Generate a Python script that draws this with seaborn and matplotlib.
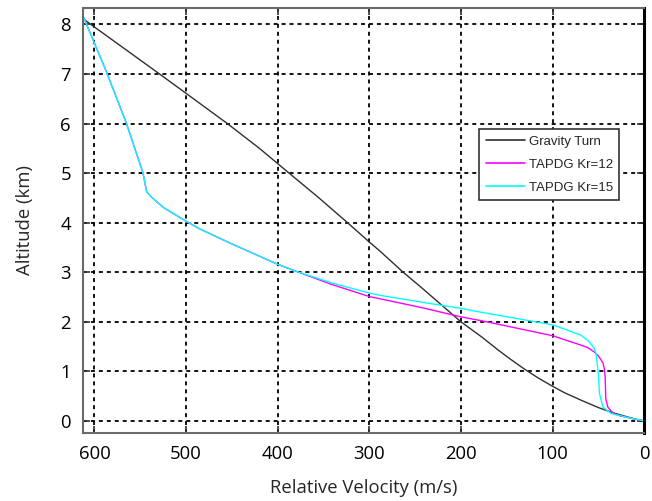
import matplotlib
matplotlib.use("Agg")
import matplotlib.pyplot as plt
import seaborn as sns
import pandas as pd

# Gravity Turn
gt_v = [612.7, 604, 529, 506, 455, 420, 387.6, 355, 323.8, 300, 287.4, 263, 243.7, 200, 177, 160, 147, 131, 115, 100, 87, 69, 50, 33, 18, 8, 0]
gt_h = [8.12, 8.0, 7.0, 6.69, 6.0, 5.5, 5.0, 4.5, 4.0, 3.61, 3.41, 3.0, 2.70, 2.0, 1.69, 1.44, 1.26, 1.05, 0.86, 0.70, 0.57, 0.42, 0.27, 0.16, 0.08, 0.03, 0.0]

# TAPDG Kr=12
k12_v = [612.7, 592, 586, 565, 547, 543, 538, 525, 500, 484.6, 451, 400, 378.5, 342, 300, 243.7, 200, 177, 100, 69, 61.6, 54.3, 50, 47, 45, 43.5, 42.6, 42.2, 41.9, 39.7, 34.2, 26, 17.8, 8, 0]
k12_h = [8.18, 7.27, 7.0, 6.0, 5.0, 4.62, 4.52, 4.31, 4.03, 3.87, 3.58, 3.16, 3.01, 2.76, 2.51, 2.29, 2.10, 2.02, 1.72, 1.53, 1.48, 1.39, 1.31, 1.23, 1.17, 1.05, 0.89, 0.65, 0.45, 0.28, 0.16, 0.10, 0.07, 0.03, 0.0]

# TAPDG Kr=15
k15_v = [612.7, 592, 586, 565, 547, 543, 538, 525, 500, 484.6, 451, 400, 378.5, 342, 300, 287, 243.7, 200, 177, 100, 83.4, 69, 60, 55, 52.5, 50.6, 49.5, 48.8, 45, 36, 18, 8, 0]
k15_h = [8.18, 7.27, 7.0, 6.0, 5.0, 4.62, 4.52, 4.31, 4.03, 3.87, 3.58, 3.16, 3.01, 2.79, 2.58, 2.53, 2.40, 2.27, 2.19, 1.94, 1.83, 1.73, 1.60, 1.48, 1.36, 1.05, 0.80, 0.55, 0.28, 0.15, 0.07, 0.03, 0.0]

series_names = ["Gravity Turn", "TAPDG Kr=12", "TAPDG Kr=15"]
colors = ["#303030", "#ff00ff", "#00ffff"]

x_ticks = [600, 500, 400, 300, 200, 100, 0]
y_ticks = [0, 1, 2, 3, 4, 5, 6, 7, 8]

sns.set_style("white")
plt.rcParams["font.family"] = ["Open Sans", "DejaVu Sans"]

fig = plt.figure(figsize=(6.52, 5.01), dpi=100)
ax = fig.add_axes([0.127, 0.136, 0.861, 0.849])

frames = []
for name, v, h in zip(series_names, [gt_v, k12_v, k15_v], [gt_h, k12_h, k15_h]):
    frames.append(pd.DataFrame({"v": v, "h": h, "series": name}))
df = pd.concat(frames, ignore_index=True)

for name, c in zip(series_names, colors):
    sub = df[df["series"] == name]
    sns.lineplot(data=sub, x="v", y="h", sort=False, estimator=None, ax=ax,
                 color=c, linewidth=1.0, label=name)

ax.set_xlim(612.7, 0)
ax.set_ylim(-0.24, 8.34)
ax.set_xticks(x_ticks)
ax.set_yticks(y_ticks)
ax.set_xticklabels([str(t) for t in x_ticks])
ax.set_yticklabels([str(t) for t in y_ticks])

ax.grid(True, color="black", linestyle=(0, (2.2, 2.2)), linewidth=1.3)
ax.set_axisbelow(True)

ax.tick_params(axis="both", which="major", direction="in", length=5, width=1.2,
               colors="#333333", labelcolor="black", labelsize=13.3,
               top=True, right=True, left=True, bottom=True, pad=8.5)
for s in ["left", "bottom", "top"]:
    ax.spines[s].set_color("#6a6a6a")
    ax.spines[s].set_linewidth(1.5)
ax.spines["right"].set_color("black")
ax.spines["right"].set_linewidth(2.2)

ax.set_xlabel("Relative Velocity (m/s)", fontsize=13.3, labelpad=12)
ax.set_ylabel("Altitude (km)", fontsize=13.3, labelpad=19)

leg = ax.legend(loc="upper left", bbox_to_anchor=(0.706, 0.714), frameon=True,
                fancybox=False, edgecolor="#333333", framealpha=1,
                prop={"family": "Liberation Sans", "size": 9.5},
                handlelength=3.0, handletextpad=0.25, borderpad=0.5,
                labelspacing=0.8, borderaxespad=0)
leg.get_frame().set_linewidth(1.2)
for line in leg.get_lines():
    line.set_linewidth(1.2)

fig.savefig("out.png", dpi=100)
